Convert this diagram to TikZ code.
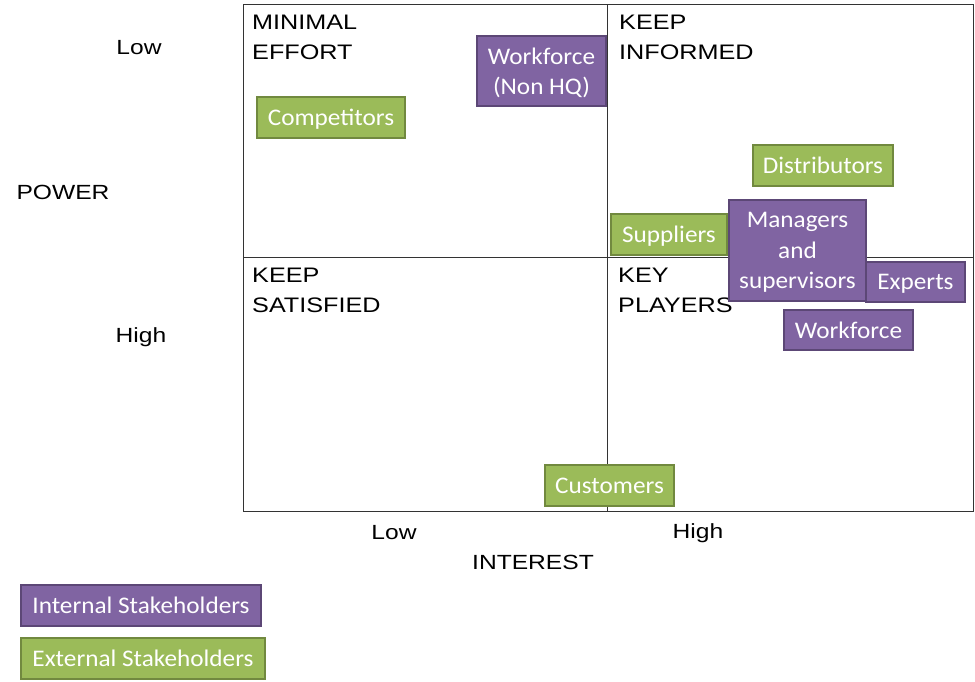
\documentclass[tikz,border=0pt]{standalone}
\usepackage{fontspec}
\setmainfont{Liberation Sans}[FakeStretch=1.2]
\newfontfamily\boxfont{Carlito}[FakeStretch=1.06]
\definecolor{purp}{HTML}{8064A2}
\definecolor{purpd}{HTML}{5C4776}
\definecolor{grn}{HTML}{9BBB59}
\definecolor{grnd}{HTML}{71893F}
\tikzset{
  sbox/.style={rectangle, line width=2pt, text=white, align=center, inner sep=0pt,
    text depth=0pt, font=\boxfont\fontsize{23.8}{30.5}\selectfont},
  intb/.style={sbox, fill=purp, draw=purpd},
  extb/.style={sbox, fill=grn, draw=grnd},
  qlab/.style={anchor=north west, align=left, inner sep=0pt, font=\fontsize{21}{29.5}\selectfont},
  alab/.style={inner sep=0pt, font=\fontsize{20.5}{25}\selectfont}
}
\begin{document}
\begin{tikzpicture}[x=1pt,y=-1pt]
\useasboundingbox (0,0) rectangle (975,681);
% grid
\draw[line width=0.9pt, black!80] (243,4) rectangle (973,511);
\coordinate (top) at (607,4);
\coordinate (bot) at (607,511);
\coordinate (lft) at (243,257);
\coordinate (rgt) at (973,257);
\draw[line width=0.9pt, black!80] (top) -- (bot);
\draw[line width=0.9pt, black!80] (lft) -- (rgt);
% quadrant labels
\node[qlab] (q1) at (252,15) {MINIMAL\\EFFORT};
\node[qlab] (q2) at (619,15) {KEEP\\INFORMED};
\node[qlab] (q3) at (252,268) {KEEP\\SATISFIED};
\node[qlab] (q4) at (618,268) {KEY\\PLAYERS};
% axis labels
\node[alab] (plow) at (139,48) {Low};
\node[alab] (power) at (63,192) {POWER};
\node[alab] (phigh) at (141,337) {High};
\node[alab] (ilow) at (394,533) {Low};
\node[alab] (ihigh) at (698,533) {High};
\node[alab] (interest) at (533,562) {INTEREST};
% stakeholder boxes
\node[intb, minimum width=129pt, minimum height=70pt] (wfnhq) at (541.5,71) {Workforce\\(Non HQ)};
\node[extb, minimum width=148pt, minimum height=41pt] (comp) at (331,117.5) {Competitors};
\node[extb, minimum width=140pt, minimum height=41pt] (dist) at (823,165.5) {Distributors};
\node[extb, minimum width=116pt, minimum height=41pt] (supp) at (669,234.5) {Suppliers};
\node[intb, minimum width=137pt, minimum height=101pt] (mgr) at (797.5,250.5) {Managers\\and\\supervisors};
\node[intb, minimum width=99pt, minimum height=40pt] (exp) at (915.5,282) {Experts};
\node[intb, minimum width=129pt, minimum height=40pt] (wf) at (848.5,330) {Workforce};
\node[extb, minimum width=129pt, minimum height=41pt] (cust) at (609.5,485.5) {Customers};
% legend
\node[intb, minimum width=240pt, minimum height=41pt] (lint) at (141,605.5) {Internal Stakeholders};
\node[extb, minimum width=244pt, minimum height=41pt] (lext) at (143,658.5) {External Stakeholders};
\end{tikzpicture}
\end{document}
